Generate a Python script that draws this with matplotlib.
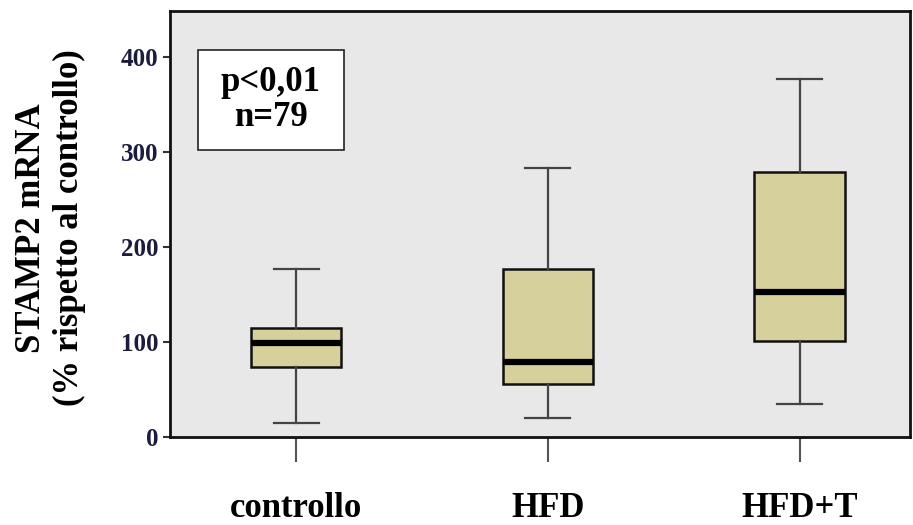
import numpy as np
import matplotlib.pyplot as plt
from matplotlib.patches import Rectangle

# box statistics for STAMP2 mRNA (% of control)
groups = ['controllo', 'HFD', 'HFD+T']
whislo = [14, 20, 35]
q1 = [73, 56, 101]
med = [99, 79, 152]
q3 = [115, 177, 279]
whishi = [177, 283, 376]
yticks = [0, 100, 200, 300, 400]

plt.rcParams['font.family'] = ['Liberation Serif', 'DejaVu Serif']
plt.rcParams['font.weight'] = 'bold'

fig = plt.figure(figsize=(9.13, 5.25), dpi=100)
ax = fig.add_axes([0.186, 0.168, 0.811, 0.811])
ax.set_facecolor('#e8e8e8')

stats = []
for i in range(len(groups)):
    stats.append(dict(label=groups[i], whislo=whislo[i], q1=q1[i], med=med[i],
                      q3=q3[i], whishi=whishi[i], fliers=[]))

ax.bxp(stats, positions=[1, 2, 3], widths=0.36, capwidths=0.18, patch_artist=True,
       showfliers=False,
       boxprops=dict(facecolor='#d6d09c', edgecolor='#111111', linewidth=1.8),
       medianprops=dict(color='black', linewidth=4.5, solid_capstyle='butt'),
       whiskerprops=dict(color='#444444', linewidth=1.6),
       capprops=dict(color='#444444', linewidth=1.6))

ax.set_xlim(0.498, 3.44)
ax.set_ylim(0, 448)
ax.set_yticks(yticks)
ax.set_yticklabels([str(v) for v in yticks], fontsize=18, fontweight='bold', color='#1c1c3c')
ax.set_xticks([1, 2, 3])
ax.set_xticklabels(groups, fontsize=25, fontweight='bold')
ax.tick_params(axis='x', length=18, width=1.5, color='#555555', pad=22)
ax.tick_params(axis='y', length=5, width=1.5, color='#333333', pad=3)

for side in ['left', 'bottom', 'top', 'right']:
    ax.spines[side].set_linewidth(2)
    ax.spines[side].set_color('#111111')

fig.text(0.055, 1 - 228 / 525, 'STAMP2 mRNA\n(% rispetto al controllo)', rotation=90,
         ha='center', va='center', multialignment='center', fontsize=25,
         fontweight='bold', linespacing=1.2)

# p-value box
ax.add_patch(Rectangle((0.038, 0.674), 0.197, 0.235, transform=ax.transAxes,
                       facecolor='white', edgecolor='#222222', linewidth=1.2, zorder=5))
ax.text(0.1365, 0.791, 'p<0,01\nn=79', transform=ax.transAxes, ha='center', va='center',
        fontsize=25, fontweight='bold', linespacing=1.1, zorder=6)

fig.savefig('out.png', dpi=100)
